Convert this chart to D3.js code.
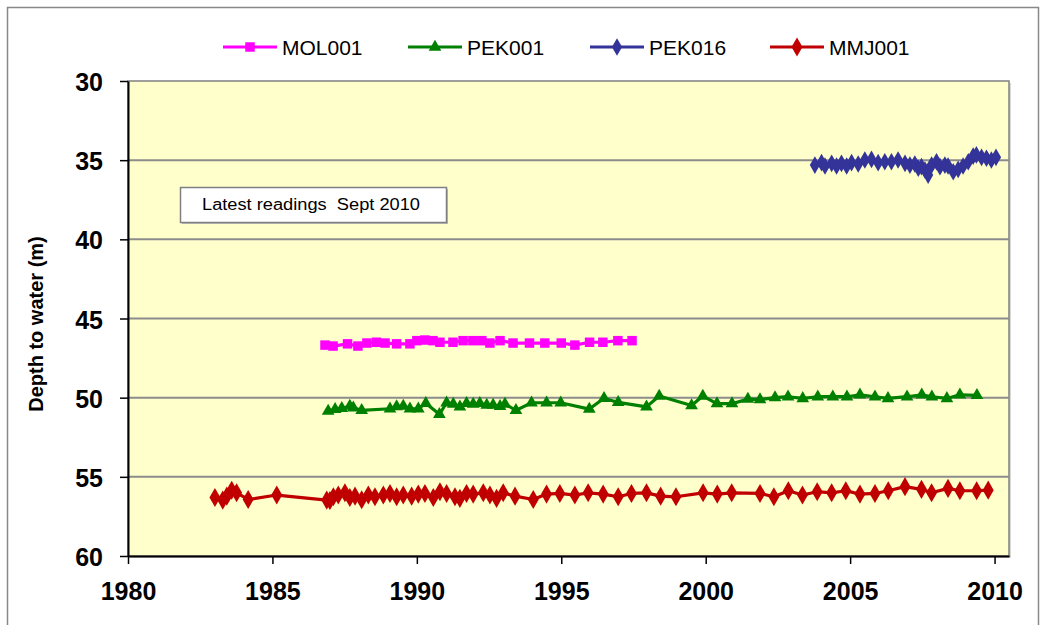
<!DOCTYPE html>
<html><head><meta charset="utf-8">
<script src="https://cdn.jsdelivr.net/npm/d3@7/dist/d3.min.js"></script>
<style>body{margin:0;background:#fff}svg{display:block;font-family:"Liberation Sans",Arial,sans-serif}</style>
</head><body><svg id="c" width="1046" height="625"></svg>
<script>
const seriesNames = ["MOL001","PEK001","PEK016","MMJ001"];
const seriesColors = ["#FF00FF","#008000","#333399","#C00000"];
const xTicks = [1980,1985,1990,1995,2000,2005,2010];
const yTicks = [30,35,40,45,50,55,60];

const molYears = [1986.82,1987.1,1987.6,1987.96,1988.27,1988.6,1988.9,1989.3,1989.76,1990.0,1990.28,1990.56,1990.8,1991.25,1991.6,1991.94,1992.25,1992.53,1992.88,1993.33,1993.9,1994.43,1995.0,1995.47,1995.98,1996.44,1996.96,1997.45];
const molDepth = [46.68,46.74,46.6,46.74,46.55,46.5,46.55,46.6,46.6,46.4,46.36,46.4,46.5,46.5,46.4,46.4,46.4,46.55,46.4,46.55,46.55,46.55,46.55,46.68,46.5,46.5,46.4,46.4];

const pekYears = [1986.93,1987.17,1987.4,1987.68,1987.8,1988.09,1989.07,1989.3,1989.53,1989.76,1990.05,1990.31,1990.78,1991.03,1991.26,1991.49,1991.72,1991.95,1992.18,1992.42,1992.64,1992.88,1993.05,1993.43,1993.97,1994.49,1994.98,1995.97,1996.48,1996.97,1997.95,1998.39,1999.51,1999.9,2000.39,2000.91,2001.46,2001.88,2002.4,2002.85,2003.36,2003.88,2004.4,2004.89,2005.34,2005.86,2006.31,2006.97,2007.48,2007.83,2008.35,2008.8,2009.39];
const pekDepth = [50.85,50.74,50.68,50.53,50.64,50.8,50.7,50.57,50.53,50.7,50.7,50.36,51.05,50.32,50.4,50.58,50.36,50.4,50.36,50.47,50.47,50.55,50.4,50.8,50.32,50.32,50.32,50.72,50.04,50.3,50.58,49.9,50.5,49.9,50.38,50.38,50.09,50.12,50.0,49.94,50.05,49.94,49.94,49.94,49.82,49.94,50.05,49.94,49.82,49.94,50.05,49.82,49.86];

const pek16Years = [2003.78,2004.01,2004.13,2004.36,2004.53,2004.7,2004.88,2005.05,2005.28,2005.51,2005.74,2005.97,2006.2,2006.43,2006.66,2006.9,2007.07,2007.24,2007.36,2007.47,2007.59,2007.7,2007.82,2007.99,2008.11,2008.28,2008.39,2008.57,2008.74,2008.91,2009.09,2009.26,2009.37,2009.55,2009.72,2009.89,2010.05];
const pek16Depth = [35.31,35.16,35.37,35.2,35.37,35.2,35.37,35.16,35.24,34.99,34.95,35.16,35.1,35.1,34.99,35.2,35.31,35.24,35.51,35.41,35.62,35.94,35.31,35.1,35.41,35.31,35.37,35.73,35.58,35.37,35.1,34.74,34.67,34.82,34.88,34.99,34.82];

const mmjYears = [1983.01,1983.28,1983.42,1983.59,1983.76,1984.16,1985.15,1986.88,1986.99,1987.11,1987.28,1987.51,1987.68,1987.86,1988.09,1988.32,1988.55,1988.84,1989.07,1989.3,1989.53,1989.82,1990.05,1990.28,1990.57,1990.8,1991.03,1991.32,1991.49,1991.72,1991.95,1992.3,1992.53,1992.76,1992.99,1993.4,1994.03,1994.49,1994.95,1995.47,1995.93,1996.45,1996.97,1997.43,1997.95,1998.44,1998.97,1999.91,2000.4,2000.9,2001.88,2002.36,2002.86,2003.35,2003.86,2004.36,2004.85,2005.34,2005.86,2006.32,2006.9,2007.47,2007.82,2008.39,2008.8,2009.38,2009.78];
const mmjDepth = [56.3,56.47,56.22,55.85,56.01,56.43,56.15,56.47,56.5,56.26,56.15,56.01,56.3,56.22,56.45,56.15,56.26,56.15,56.05,56.26,56.15,56.22,56.09,56.05,56.3,55.94,56.05,56.26,56.36,56.05,56.09,56.01,56.15,56.36,56.01,56.22,56.43,56.09,56.05,56.15,56.01,56.09,56.26,56.05,56.01,56.22,56.26,56.01,56.09,56.01,56.05,56.26,55.88,56.15,55.94,56.01,55.88,56.09,56.05,55.88,55.62,55.79,56.01,55.73,55.88,55.88,55.84];

const series = [
  {name:seriesNames[0], color:seriesColors[0], xs:molYears, ys:molDepth, sym:d3.symbolSquare, size:90},
  {name:seriesNames[1], color:seriesColors[1], xs:pekYears, ys:pekDepth, sym:d3.symbolTriangle, size:70},
  {name:seriesNames[2], color:seriesColors[2], xs:pek16Years, ys:pek16Depth, sym:d3.symbolDiamond, size:90},
  {name:seriesNames[3], color:seriesColors[3], xs:mmjYears, ys:mmjDepth, sym:d3.symbolDiamond, size:105}
];

const svg = d3.select("#c");
const L=128, R=1009, T=81, B=556;
const x = d3.scaleLinear().domain([1980,2010.5]).range([L,R]);
const y = d3.scaleLinear().domain([30,60]).range([T,B]);

// outer border
svg.append("rect").attr("x",7.5).attr("y",7.5).attr("width",1031).attr("height",640)
  .attr("fill","#fff").attr("stroke","#888").attr("stroke-width",1.5);

// plot area shadow + bg
svg.append("rect").attr("x",L+2).attr("y",T+2).attr("width",R-L).attr("height",B-T).attr("fill","#d8d8d8");
svg.append("rect").attr("x",L).attr("y",T).attr("width",R-L).attr("height",B-T)
  .attr("fill","#FFFFCC").attr("stroke","#808080").attr("stroke-width",1.5);

// gridlines
svg.append("g").selectAll("line").data(yTicks.slice(1,-1)).join("line")
  .attr("x1",L).attr("x2",R).attr("y1",d=>y(d)).attr("y2",d=>y(d))
  .attr("stroke","#8c8c8c").attr("stroke-width",2);

// axes
const ya = svg.append("g").attr("transform",`translate(${L},0)`)
  .call(d3.axisLeft(y).tickValues(yTicks).tickSize(8).tickPadding(17).tickSizeOuter(0));
ya.select(".domain").attr("stroke","#000").attr("stroke-width",2);
ya.selectAll(".tick line").attr("stroke","#000").attr("stroke-width",1.5);
ya.selectAll("text").attr("font-family","Liberation Sans, Arial").attr("font-size",25).attr("font-weight","bold").attr("fill","#000").attr("dy","0.38em");

const xa = svg.append("g").attr("transform",`translate(0,${B})`)
  .call(d3.axisBottom(x).tickValues(xTicks).tickFormat(d3.format("d")).tickSize(8).tickPadding(18).tickSizeOuter(0));
xa.select(".domain").attr("stroke","#000").attr("stroke-width",2);
xa.selectAll(".tick line").attr("stroke","#000").attr("stroke-width",1.5);
xa.selectAll("text").attr("font-family","Liberation Sans, Arial").attr("font-size",25).attr("font-weight","bold").attr("fill","#000");

// y label
svg.append("text").attr("transform","translate(43,324) rotate(-90)").attr("text-anchor","middle")
  .attr("font-size",20).attr("font-weight","bold").attr("fill","#000").text("Depth to water (m)");

// series
const line = d3.line().x(d=>x(d[0])).y(d=>y(d[1]));
series.forEach(s=>{
  const pts = s.xs.map((v,i)=>[v,s.ys[i]]);
  svg.append("path").datum(pts).attr("d",line).attr("fill","none").attr("stroke",s.color).attr("stroke-width",3.2).attr("stroke-linejoin","round");
  svg.append("g").selectAll("path").data(pts).join("path")
    .attr("transform",d=>`translate(${x(d[0])},${y(d[1])})`)
    .attr("d",d3.symbol().type(s.sym).size(s.size)).attr("fill",s.color);
});

// annotation box
svg.append("rect").attr("x",182).attr("y",189).attr("width",266).attr("height",35).attr("fill","#bdbdbd");
svg.append("rect").attr("x",180.5).attr("y",187.5).attr("width",266).attr("height",35)
  .attr("fill","#fff").attr("stroke","#808080").attr("stroke-width",1.5);
svg.append("text").attr("x",202).attr("y",210).attr("font-size",16)
  .attr("textLength",218).attr("lengthAdjust","spacingAndGlyphs").attr("fill","#000")
  .attr("xml:space","preserve").text("Latest readings  Sept 2010");

// legend
const legX = [223,408,590,770];
const lg = svg.append("g");
series.forEach((s,i)=>{
  const g = lg.append("g").attr("transform",`translate(${legX[i]},47)`);
  g.append("line").attr("x1",0).attr("x2",54).attr("stroke",s.color).attr("stroke-width",3.2);
  g.append("path").attr("transform","translate(27,0)").attr("d",d3.symbol().type(s.sym).size(s.size)).attr("fill",s.color);
  g.append("text").attr("x",59).attr("y",7.5).attr("font-size",21).attr("fill","#000").text(s.name);
});
</script></body></html>
